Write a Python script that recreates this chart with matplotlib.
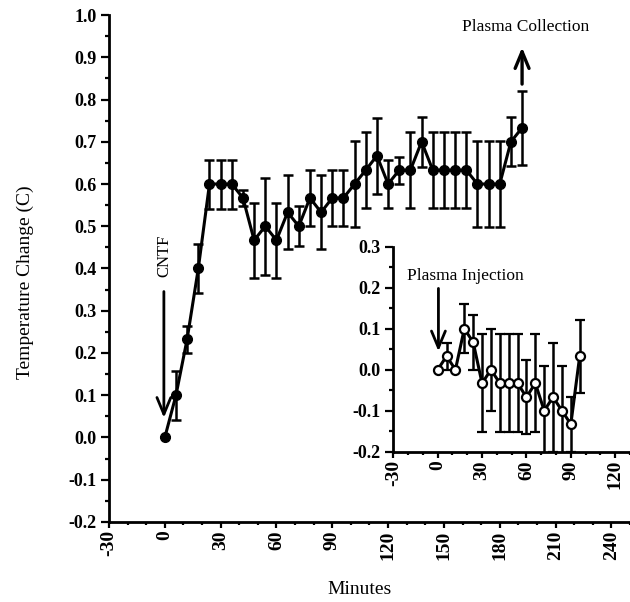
import matplotlib
matplotlib.use("Agg")
import matplotlib.pyplot as plt
from matplotlib.ticker import MultipleLocator

plt.rcParams['font.family'] = ['Liberation Serif', 'DejaVu Serif']

# main curve: CNTF response
minutes = [0, 6, 12, 18, 24, 30, 36, 42, 48, 54, 60, 66, 72, 78, 84, 90, 96,
           102, 108, 114, 120, 126, 132, 138, 144, 150, 156, 162, 168, 174, 180, 186, 192]
temp = [0.0, 0.1, 0.233, 0.4, 0.6, 0.6, 0.6, 0.567, 0.467, 0.5, 0.467, 0.533, 0.5,
        0.567, 0.533, 0.567, 0.567, 0.6, 0.633, 0.667, 0.6, 0.633, 0.633, 0.7,
        0.633, 0.633, 0.633, 0.633, 0.6, 0.6, 0.6, 0.7, 0.733]
temp_err = [0.0, 0.058, 0.032, 0.059, 0.058, 0.058, 0.058, 0.02, 0.089, 0.115, 0.089,
            0.088, 0.047, 0.066, 0.088, 0.066, 0.066, 0.102, 0.09, 0.09, 0.057, 0.032,
            0.09, 0.059, 0.09, 0.09, 0.09, 0.09, 0.101, 0.101, 0.101, 0.058, 0.088]

# inset: plasma injection
inj_minutes = [0, 6, 12, 18, 24, 30, 36, 42, 48, 54, 60, 66, 72, 78, 84, 90, 96]
inj_temp = [0.0, 0.033, 0.0, 0.1, 0.067, -0.033, 0.0, -0.033, -0.033, -0.033,
            -0.067, -0.033, -0.1, -0.067, -0.1, -0.133, 0.033]
inj_err = [0.0, 0.033, 0.0, 0.06, 0.067, 0.12, 0.1, 0.12, 0.12, 0.12, 0.09, 0.12,
           0.11, 0.133, 0.11, 0.067, 0.089]

main_xticks = [-30, 0, 30, 60, 90, 120, 150, 180, 210, 240]
main_yticks = [-0.2, -0.1, 0.0, 0.1, 0.2, 0.3, 0.4, 0.5, 0.6, 0.7, 0.8, 0.9, 1.0]
inset_xticks = [-30, 0, 30, 60, 90, 120]
inset_yticks = [-0.2, -0.1, 0.0, 0.1, 0.2, 0.3]


def style_axes(ax):
    for s in ['top', 'right']:
        ax.spines[s].set_visible(False)
    for s in ['left', 'bottom']:
        ax.spines[s].set_linewidth(2.0)
    ax.xaxis.set_minor_locator(MultipleLocator(10))
    ax.yaxis.set_minor_locator(MultipleLocator(0.05))
    ax.tick_params(axis='x', which='major', direction='out', length=4.5, width=1.6, pad=1.5)
    ax.tick_params(axis='x', which='minor', direction='out', length=2.5, width=1.6)
    ax.tick_params(axis='y', which='major', direction='out', length=6, width=1.6, pad=3)
    ax.tick_params(axis='y', which='minor', direction='out', length=3, width=1.6)
    for lab in ax.get_xticklabels() + ax.get_yticklabels():
        lab.set_fontweight('bold')


fig = plt.figure(figsize=(6.3, 6.02), dpi=100)
ax = fig.add_axes([0.173, 0.133, 0.827, 0.842])

ax.errorbar(minutes, temp, yerr=temp_err, fmt='-o', color='black', lw=2.2,
            ms=7, elinewidth=1.8, capsize=3.6, capthick=1.8)
ax.set_xlim(-30, 250)
ax.set_ylim(-0.2, 1.0)
ax.set_xticks(main_xticks)
ax.set_xticklabels([str(t) for t in main_xticks], rotation=90, fontsize=14)
ax.set_yticks(main_yticks)
ax.set_yticklabels(['%.1f' % v for v in main_yticks], fontsize=13)
style_axes(ax)

ax.annotate('', xy=(-0.5, 0.04), xytext=(-0.5, 0.352),
            arrowprops=dict(arrowstyle='->, head_length=0.6, head_width=0.25',
                            lw=2.0, color='black', mutation_scale=20))
ax.text(-0.5, 0.43, 'CNTF', rotation=90, ha='center', va='center', fontsize=12)

ax.annotate('', xy=(192, 0.93), xytext=(192, 0.83),
            arrowprops=dict(arrowstyle='->, head_length=0.6, head_width=0.25',
                            lw=2.4, color='black', mutation_scale=20))
ax.text(194, 0.972, 'Plasma Collection', ha='center', va='center', fontsize=12.5)

fig.text(25 / 630, 1 - 282 / 602, 'Temperature Change (C)', rotation=90,
         ha='center', va='center', fontsize=14)
fig.text(360 / 630, 1 - 590 / 602, 'Minutes', ha='center', va='center', fontsize=14)

# inset axes
axi = fig.add_axes([0.6243, 0.2497, 0.3757, 0.3405])
axi.patch.set_alpha(0)
axi.errorbar(inj_minutes, inj_temp, yerr=inj_err, fmt='-o', color='black', lw=2.2,
             ms=6.5, mfc='white', mec='black', mew=1.6, elinewidth=1.8,
             capsize=3.6, capthick=1.8)
axi.set_xlim(-30, 130)
axi.set_ylim(-0.2, 0.3)
axi.set_xticks(inset_xticks)
axi.set_xticklabels([str(t) for t in inset_xticks], rotation=90, fontsize=14)
axi.set_yticks(inset_yticks)
axi.set_yticklabels(['%.1f' % v for v in inset_yticks], fontsize=13)
style_axes(axi)

axi.annotate('', xy=(0.5, 0.038), xytext=(0.5, 0.205),
             arrowprops=dict(arrowstyle='->, head_length=0.6, head_width=0.25',
                             lw=2.0, color='black', mutation_scale=20))
axi.text(18.5, 0.229, 'Plasma Injection', ha='center', va='center', fontsize=12.5)

fig.savefig('out.png', dpi=100)
